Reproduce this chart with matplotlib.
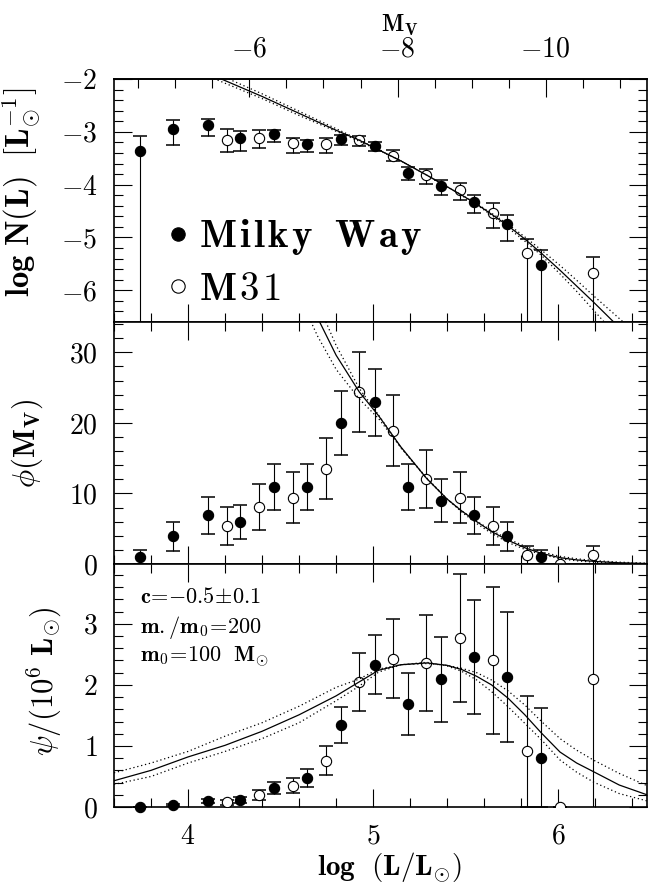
import numpy as np
import matplotlib
matplotlib.use("Agg")
import matplotlib.pyplot as plt
from matplotlib.ticker import MultipleLocator, FixedLocator, FuncFormatter

plt.rcParams["mathtext.fontset"] = "cm"
plt.rcParams["font.family"] = "serif"
plt.rcParams["font.serif"] = ["cmr10", "DejaVu Serif"]
plt.rcParams["axes.formatter.use_mathtext"] = True

nan = np.nan
BIG = 10.0  # lower error reaching zero counts (log -> -inf), clipped by the axes

# ---- luminosity bins (log L/Lsun) ----
logL_mw = [3.742, 3.921, 4.108, 4.283, 4.466, 4.645, 4.825, 5.008, 5.187, 5.368, 5.547, 5.726, 5.908]
logL_m31 = [4.208, 4.383, 4.566, 4.745, 4.925, 5.108, 5.287, 5.468, 5.647, 5.830, 6.009, 6.189]

# ---- log N(L) ----
logN_mw = [-3.36, -2.95, -2.88, -3.12, -3.05, -3.23, -3.14, -3.27, -3.78, -4.03, -4.33, -4.74, -5.53]
logN_mw_hi = [0.28, 0.17, 0.13, 0.14, 0.08, 0.07, 0.08, 0.07, 0.11, 0.11, 0.14, 0.16, 0.29]
logN_mw_lo = [BIG, 0.29, 0.20, 0.24, 0.14, 0.15, 0.10, 0.09, 0.14, 0.17, 0.20, 0.32, BIG]
logN_m31 = [-3.16, -3.11, -3.22, -3.23, -3.16, -3.45, -3.82, -4.10, -4.53, -5.30, nan, -5.67]
logN_m31_hi = [0.22, 0.14, 0.11, 0.12, 0.09, 0.11, 0.11, 0.14, 0.18, 0.28, 0.0, 0.30]
logN_m31_lo = [0.22, 0.20, 0.19, 0.17, 0.11, 0.11, 0.16, 0.19, 0.30, BIG, 0.0, BIG]

# ---- phi(M_V) ----
phi_mw = [1.0, 3.9, 6.9, 5.9, 10.9, 10.9, 20.0, 22.9, 10.9, 9.0, 6.9, 3.9, 1.0]
phi_mw_err = [1.0, 2.0, 2.6, 2.4, 3.3, 3.3, 4.5, 4.8, 3.3, 3.0, 2.6, 2.0, 1.0]
phi_m31 = [5.4, 8.1, 9.4, 13.5, 24.4, 18.9, 12.1, 9.4, 5.4, 1.3, 0.0, 1.3]
phi_m31_err = [2.7, 3.3, 3.6, 4.3, 5.7, 5.0, 4.1, 3.6, 2.7, 1.3, 0.0, 1.3]

# ---- psi / (1e6 Lsun) ----
psi_mw = [0.006, 0.03, 0.10, 0.12, 0.31, 0.48, 1.34, 2.33, 1.69, 2.09, 2.46, 2.13, 0.81]
psi_mw_err = [0.0, 0.015, 0.038, 0.05, 0.10, 0.15, 0.29, 0.48, 0.51, 0.70, 0.93, 1.07, 0.81]
psi_m31 = [0.08, 0.20, 0.35, 0.76, 2.05, 2.43, 2.36, 2.77, 2.40, 0.91, 0.0, 2.09]
psi_m31_err = [0.04, 0.08, 0.12, 0.24, 0.48, 0.65, 0.78, 1.05, 1.20, 0.91, 0.0, 2.30]

# ---- model curves: c = -0.5 (solid), c = -0.5 +/- 0.1 (dotted) ----
mod_logL_top = [4.10, 4.20, 4.40, 4.60, 4.80, 4.92, 5.03, 5.15, 5.29, 5.40, 5.48,
                5.56, 5.64, 5.73, 5.82, 5.91, 6.01, 6.10, 6.19, 6.30, 6.40]
mod_logN = [-1.88, -2.03, -2.33, -2.65, -2.97, -3.15, -3.34, -3.55, -3.82, -4.04, -4.20,
            -4.37, -4.56, -4.78, -5.03, -5.30, -5.62, -5.92, -6.22, -6.60, -6.95]
mod_logN_a = [-1.83, -1.97, -2.28, -2.61, -2.94, -3.14, -3.34, -3.55, -3.82, -4.04, -4.20,
              -4.36, -4.54, -4.75, -4.99, -5.24, -5.53, -5.81, -6.10, -6.44, -6.75]
mod_logN_b = [-1.93, -2.08, -2.37, -2.69, -2.99, -3.17, -3.35, -3.55, -3.82, -4.04, -4.21,
              -4.38, -4.58, -4.82, -5.07, -5.34, -5.69, -6.02, -6.37, -6.80, -7.20]

mod_logL_mid = [4.60, 4.70, 4.80, 4.925, 5.03, 5.15, 5.29, 5.40, 5.48, 5.56, 5.64,
                5.73, 5.82, 5.91, 6.01, 6.10, 6.19, 6.33, 6.48]
mod_phi = [40.2, 34.9, 29.6, 24.4, 21.0, 16.6, 12.1, 9.2, 7.5, 6.0, 4.6,
           3.35, 2.3, 1.5, 0.9, 0.58, 0.38, 0.17, 0.07]
mod_phi_a = [45.0, 37.0, 31.0, 24.9, 21.1, 16.5, 12.1, 9.2, 7.5, 6.06, 4.77,
             3.54, 2.53, 1.72, 1.09, 0.74, 0.50, 0.26, 0.12]
mod_phi_b = [38.0, 32.3, 27.6, 23.4, 20.6, 16.5, 12.2, 9.2, 7.35, 5.73, 4.34,
             3.05, 2.07, 1.35, 0.75, 0.45, 0.26, 0.10, 0.03]

mod_logL_bot = [3.60, 3.80, 4.00, 4.20, 4.40, 4.60, 4.80, 4.92, 5.03, 5.15, 5.29, 5.40,
                5.48, 5.56, 5.64, 5.73, 5.82, 5.91, 6.01, 6.10, 6.19, 6.33, 6.48]
mod_psi = [0.43, 0.60, 0.82, 1.01, 1.24, 1.51, 1.82, 2.04, 2.24, 2.33, 2.36, 2.32,
           2.25, 2.14, 2.00, 1.78, 1.51, 1.21, 0.90, 0.72, 0.58, 0.36, 0.20]
mod_psi_a = [0.56, 0.72, 0.91, 1.16, 1.38, 1.65, 1.96, 2.09, 2.26, 2.33, 2.35, 2.32,
             2.27, 2.20, 2.08, 1.90, 1.67, 1.40, 1.12, 0.93, 0.77, 0.55, 0.35]
mod_psi_b = [0.37, 0.50, 0.72, 0.91, 1.12, 1.38, 1.74, 1.97, 2.21, 2.33, 2.37, 2.31,
             2.22, 2.08, 1.89, 1.64, 1.37, 1.10, 0.77, 0.57, 0.41, 0.22, 0.10]

MSUN_V = 4.83

fig = plt.figure(figsize=(6.49, 8.88), dpi=100)
L, W = 114 / 649, 533 / 649
ax1 = fig.add_axes([L, 1 - 322 / 888, W, 243 / 888])
ax2 = fig.add_axes([L, 1 - 564 / 888, W, 242 / 888])
ax3 = fig.add_axes([L, 1 - 807 / 888, W, 243 / 888])

TICK_FS = 20
LAB_FS = 22


def num_fmt(v, pos):
    return r"$\mathrm{%g}$" % v


def style_axis(ax, ymaj, ymin, top=True, xlabels=False):
    ax.set_xlim(3.6, 6.48)
    ax.xaxis.set_major_locator(MultipleLocator(1))
    ax.xaxis.set_minor_locator(MultipleLocator(0.2))
    ax.yaxis.set_major_locator(MultipleLocator(ymaj))
    ax.yaxis.set_minor_locator(MultipleLocator(ymin))
    ax.tick_params(which="both", direction="in", right=True, top=top,
                   width=0.8, labelsize=TICK_FS)
    ax.tick_params(which="major", length=13)
    ax.tick_params(which="minor", length=6.5)
    ax.tick_params(axis="y", pad=12)
    ax.tick_params(axis="x", pad=12, labelbottom=xlabels)
    ax.xaxis.set_major_formatter(FuncFormatter(num_fmt))
    ax.yaxis.set_major_formatter(FuncFormatter(num_fmt))
    for s in ax.spines.values():
        s.set_linewidth(1.2)


def draw_points(ax, x, y, lo, hi, filled):
    ax.errorbar(x, y, yerr=[lo, hi], fmt="none", ecolor="black", elinewidth=0.8,
                capsize=4.7, capthick=1.1, zorder=2)
    line, = ax.plot(x, y, "o", ms=7.4, mfc="black" if filled else "white",
                    mec="black", mew=0.8, ls="none", zorder=3, clip_on=not filled)
    return line


def draw_model(ax, x, y, ya, yb):
    ax.plot(x, y, color="black", lw=0.9, zorder=4)
    ax.plot(x, ya, color="black", lw=0.9, ls=(0, (1, 2.2)), zorder=4)
    ax.plot(x, yb, color="black", lw=0.9, ls=(0, (1, 2.2)), zorder=4)


# ---------- top: log N(L) ----------
style_axis(ax1, 1, 0.2, top=False)
ax1.set_ylim(-6.6, -2)
h_mw = draw_points(ax1, logL_mw, logN_mw, logN_mw_lo, logN_mw_hi, True)
h_m31 = draw_points(ax1, logL_m31, logN_m31, logN_m31_lo, logN_m31_hi, False)
draw_model(ax1, mod_logL_top, mod_logN, mod_logN_a, mod_logN_b)
ax1.set_ylabel(r"$\mathbf{log\ N(L)\ \ [L_{\odot}^{-1}]}$", fontsize=23.5)
ax1.yaxis.set_label_coords(-0.133, 0.535)

sp = r"\hspace{0.1}"
mw_label = r"$\mathbf{" + sp.join("Milky") + r"\ \ " + sp.join("Way") + "}$"
m31_label = r"$\mathbf{" + sp.join("M31") + "}$"
leg = ax1.legend([h_mw, h_m31], [mw_label, m31_label],
                 loc="lower left", bbox_to_anchor=(0.105, 0.058), frameon=False,
                 fontsize=28, markerscale=1.3, handlelength=0.4, handletextpad=0.35,
                 labelspacing=0.38, borderpad=0, borderaxespad=0)

sec = ax1.secondary_xaxis("top", functions=(lambda x: MSUN_V - 2.5 * np.asarray(x),
                                            lambda m: (MSUN_V - np.asarray(m)) / 2.5))
sec.xaxis.set_major_locator(FixedLocator([-6, -8, -10]))
sec.xaxis.set_minor_locator(MultipleLocator(0.5))
sec.xaxis.set_major_formatter(FuncFormatter(num_fmt))
sec.tick_params(which="both", direction="in", width=0.8, labelsize=TICK_FS, pad=12)
sec.tick_params(which="major", length=13)
sec.tick_params(which="minor", length=6.5)
sec.spines["top"].set_linewidth(1.2)
sec.set_xlabel(r"$\mathbf{M_V}$", fontsize=17, labelpad=3)
sec.xaxis.label.set_x(0.537)

# ---------- middle: phi(M_V) ----------
style_axis(ax2, 10, 2)
ax2.set_ylim(0, 34.3)
draw_points(ax2, logL_mw, phi_mw, phi_mw_err, phi_mw_err, True)
draw_points(ax2, logL_m31, phi_m31, phi_m31_err, phi_m31_err, False)
draw_model(ax2, mod_logL_mid, mod_phi, mod_phi_a, mod_phi_b)
ax2.set_ylabel(r"$\phi\mathbf{(M_V)}$", fontsize=LAB_FS)
ax2.yaxis.set_label_coords(-0.129, 0.5)

# ---------- bottom: psi ----------
style_axis(ax3, 1, 0.2, xlabels=True)
ax3.set_ylim(0, 3.98)
draw_points(ax3, logL_mw, psi_mw, psi_mw_err, psi_mw_err, True)
draw_points(ax3, logL_m31, psi_m31, psi_m31_err, psi_m31_err, False)
draw_model(ax3, mod_logL_bot, mod_psi, mod_psi_a, mod_psi_b)
ax3.set_ylabel(r"$\psi\mathbf{/(10^6\ L_{\odot})}$", fontsize=LAB_FS)
ax3.yaxis.set_label_coords(-0.096, 0.52)
ax3.set_xlabel(r"$\mathbf{log\ \ (L/L_{\odot})}$", fontsize=21)
ax3.xaxis.set_label_coords(0.516, -0.178)

for i, s in enumerate([r"$\mathbf{c\!=\!{-}0.5\!\pm\!0.1}$",
                       r"$\mathbf{m./m_0\!=\!200}$",
                       r"$\mathbf{m_0\!=\!100\ \ M_{\odot}}$"]):
    ax3.text(0.049, [0.841, 0.718, 0.599][i], s, transform=ax3.transAxes,
             fontsize=16, va="baseline", ha="left")

fig.savefig("out.png", dpi=100)
